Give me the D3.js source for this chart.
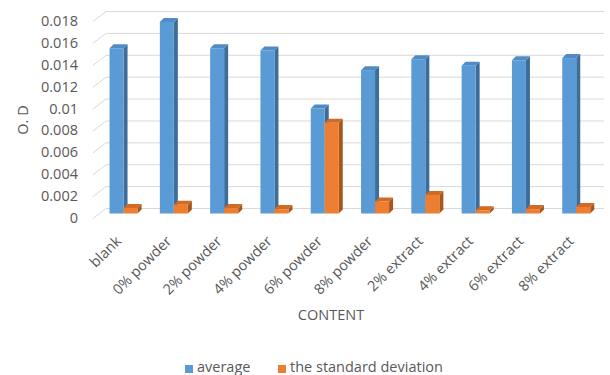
<!DOCTYPE html>
<html>
<head>
<meta charset="utf-8">
<script src="https://cdn.jsdelivr.net/npm/d3@7"></script>
<style>
  html, body { margin: 0; padding: 0; background: #ffffff; }
  svg text { font-family: "Open Sans", "Liberation Sans", sans-serif; fill: #595959; }
</style>
</head>
<body>
<svg id="chart" width="610" height="375"></svg>
<script>
const categories = ["blank", "0% powder", "2% powder", "4% powder", "6% powder", "8% powder", "2% extract", "4% extract", "6% extract", "8% extract"];
const seriesNames = ["average", "the standard deviation"];
const average = [0.0151, 0.0175, 0.0151, 0.0149, 0.0096, 0.0131, 0.0141, 0.0135, 0.0140, 0.0142];
const stdDev = [0.0005, 0.0008, 0.0005, 0.0004, 0.0083, 0.0011, 0.0017, 0.0003, 0.0004, 0.0006];
const tickValues = [0, 0.002, 0.004, 0.006, 0.008, 0.01, 0.012, 0.014, 0.016, 0.018];
const tickLabels = ["0", "0.002", "0.004", "0.006", "0.008", "0.01", "0.012", "0.014", "0.016", "0.018"];
const yTitle = "O. D";
const xTitle = "CONTENT";

const colors = {
  "average": { front: "#5b9bd5", top: "#4f8cc6", side: "#3d6d9a" },
  "the standard deviation": { front: "#ed7d31", top: "#d06a25", side: "#a9561c" }
};

const svg = d3.select("#chart");
const fs = 14.5;

const y = d3.scaleLinear().domain([0, 0.018]).range([213.5, 16.5]);
const x = d3.scaleBand().domain(categories).range([98.4, 601.4]).paddingInner(0.443).paddingOuter(0.2215);
const xs = d3.scaleBand().domain(seriesNames).range([0, x.bandwidth()]);

const depthHalf = 5;   // floor depth (half) vertical
const wallFrontX = 93, wallBackX = 106, wallRight = 604;

// gridlines (side wall diagonal + back wall)
const grid = svg.append("g");
tickValues.forEach(v => {
  const yf = y(v) + depthHalf, yb = y(v) - depthHalf;
  grid.append("polyline")
    .attr("points", `${wallFrontX},${yf} ${wallBackX},${yb} ${wallRight},${yb}`)
    .attr("fill", "none").attr("stroke", "#d9d9d9").attr("stroke-width", 1);
});

// y tick labels
svg.append("g").selectAll("text").data(tickValues).join("text")
  .attr("x", 78).attr("y", (d) => y(d) + 4)
  .attr("text-anchor", "end").attr("dominant-baseline", "central")
  .style("font-size", fs + "px")
  .text((d, i) => tickLabels[i]);

// bars
const d = 4;
const rows = [];
categories.forEach((c, i) => {
  rows.push({ cat: c, s: "average", v: average[i] });
  rows.push({ cat: c, s: "the standard deviation", v: stdDev[i] });
});
const base = y(0);
const bars = svg.append("g");
rows.forEach(r => {
  const x0 = x(r.cat) + xs(r.s), w = xs.bandwidth(), t = y(r.v);
  const col = colors[r.s];
  const g = bars.append("g");
  g.append("polygon")
    .attr("points", `${x0 + w},${t} ${x0 + w + d},${t - d} ${x0 + w + d},${base - d} ${x0 + w},${base}`)
    .attr("fill", col.side);
  g.append("polygon")
    .attr("points", `${x0},${t} ${x0 + d},${t - d} ${x0 + w + d},${t - d} ${x0 + w},${t}`)
    .attr("fill", col.top);
  g.append("rect")
    .attr("x", x0).attr("y", t).attr("width", w).attr("height", base - t)
    .attr("fill", col.front);
});

// category labels
svg.append("g").selectAll("text").data(categories).join("text")
  .attr("transform", (c) => `translate(${x(c) + x.bandwidth() / 2 - 1.5},242) rotate(-45)`)
  .attr("text-anchor", "end")
  .style("font-size", fs + "px")
  .text((c) => c);

// axis titles
svg.append("text").attr("x", 331).attr("y", 320).attr("text-anchor", "middle")
  .style("font-size", fs + "px").text(xTitle);
svg.append("text").attr("transform", "translate(28,120) rotate(-90)").attr("text-anchor", "middle")
  .style("font-size", fs + "px").text(yTitle);

// legend
const legendX = [185, 278];
const lg = svg.append("g");
seriesNames.forEach((s, i) => {
  lg.append("rect").attr("x", legendX[i]).attr("y", 365).attr("width", 8).attr("height", 8)
    .attr("fill", colors[s].front);
  lg.append("text").attr("x", legendX[i] + 12).attr("y", 372)
    .style("font-size", fs + "px").text(s);
});
</script>
</body>
</html>
